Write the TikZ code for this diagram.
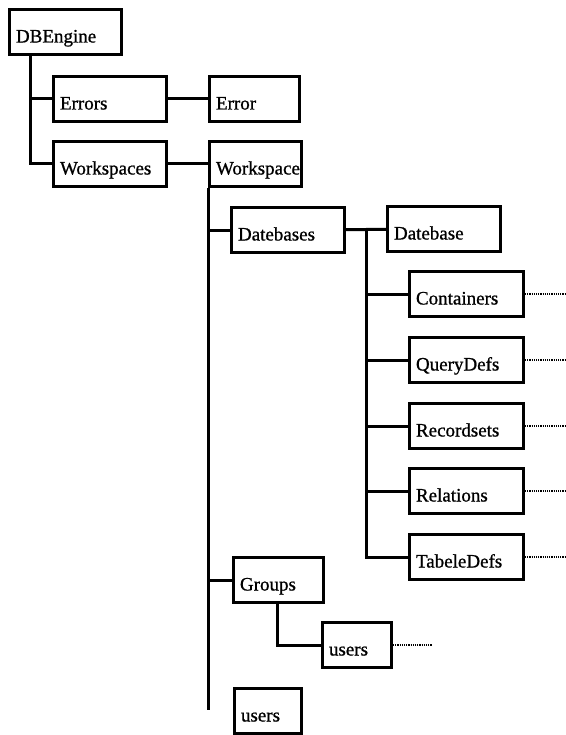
\documentclass[tikz,border=0pt]{standalone}
\usepackage{fontspec}
\setmainfont{Liberation Serif}
\newfontfamily\objfont{Liberation Serif}[FakeBold=0.9]
\usetikzlibrary{calc}

\tikzset{
  obj/.style={draw, line width=3pt, anchor=north west, inner ysep=5pt,
    text height=28pt, text depth=7pt, inner xsep=6.5pt, text width=#1,
    align=left, font=\objfont\fontsize{19}{21}\selectfont},
  link/.style={line width=3pt},
  more/.style={line width=1.2pt, densely dotted}
}

\begin{document}
\begin{tikzpicture}[x=1pt, y=-1pt]
                \useasboundingbox (0,0) rectangle (565,735);
                % top levels
                \node [obj=99pt] (dbe) at (8,8) {DBEngine};
                \node [obj=100pt] (errs) at (52,75) {Errors};
                \node [obj=77pt] (err) at (208,75) {Error};
                \node [obj=100pt] (wss) at (52,140) {Workspaces};
                \node [obj=79pt] (ws) at (208,140) {Workspace};
                \draw [link] ([xshift=22pt]dbe.south west) |- (errs.west);
                \draw [link] ([xshift=22pt]dbe.south west) |- (wss.west);
                \draw [link] (errs) -- (err);
                \draw [link] (wss) -- (ws);
                % workspace members
                \node [obj=100pt] (dbs) at (230,206) {Datebases};
                \node [obj=100pt] (db) at (386,205) {Datebase};
                \node [obj=77pt] (grp) at (232,556) {Groups};
                \node [obj=56pt] (gu) at (321,621) {users};
                \node [obj=54pt] (us) at (233,687) {users};
                \coordinate (wsend) at (208,710);
                \draw [link] (ws.south west) -- (wsend);
                \draw [link] (ws.south west |- dbs.west) -- (dbs.west);
                \draw [link] (ws.south west |- grp.west) -- (grp.west);
                \draw [link] (dbs) -- (db);
                \draw [link] ([xshift=45pt]grp.south west) |- (gu.west);
                \coordinate (gend) at (432,0);
                \draw [more] (gu.east) -- (gu.east -| gend);
                % database collections
                \coordinate (dbmid) at ($(dbs.east)!0.5!(db.west)$);
                \coordinate (edge) at (565,0);
                \foreach \name/\txt/\y in {cont/Containers/270, qd/QueryDefs/336,
                    rs/Recordsets/402, rel/Relations/467, td/TabeleDefs/533} {
                    \node [obj=101pt] (\name) at (408,\y) {\txt};
                    \draw [link] (dbmid |- \name.west) -- (\name.west);
                    \draw [more] (\name.east) -- (\name.east -| edge);
                }
                \draw [link] (dbmid) |- (td.west);
            \end{tikzpicture}
\end{document}
